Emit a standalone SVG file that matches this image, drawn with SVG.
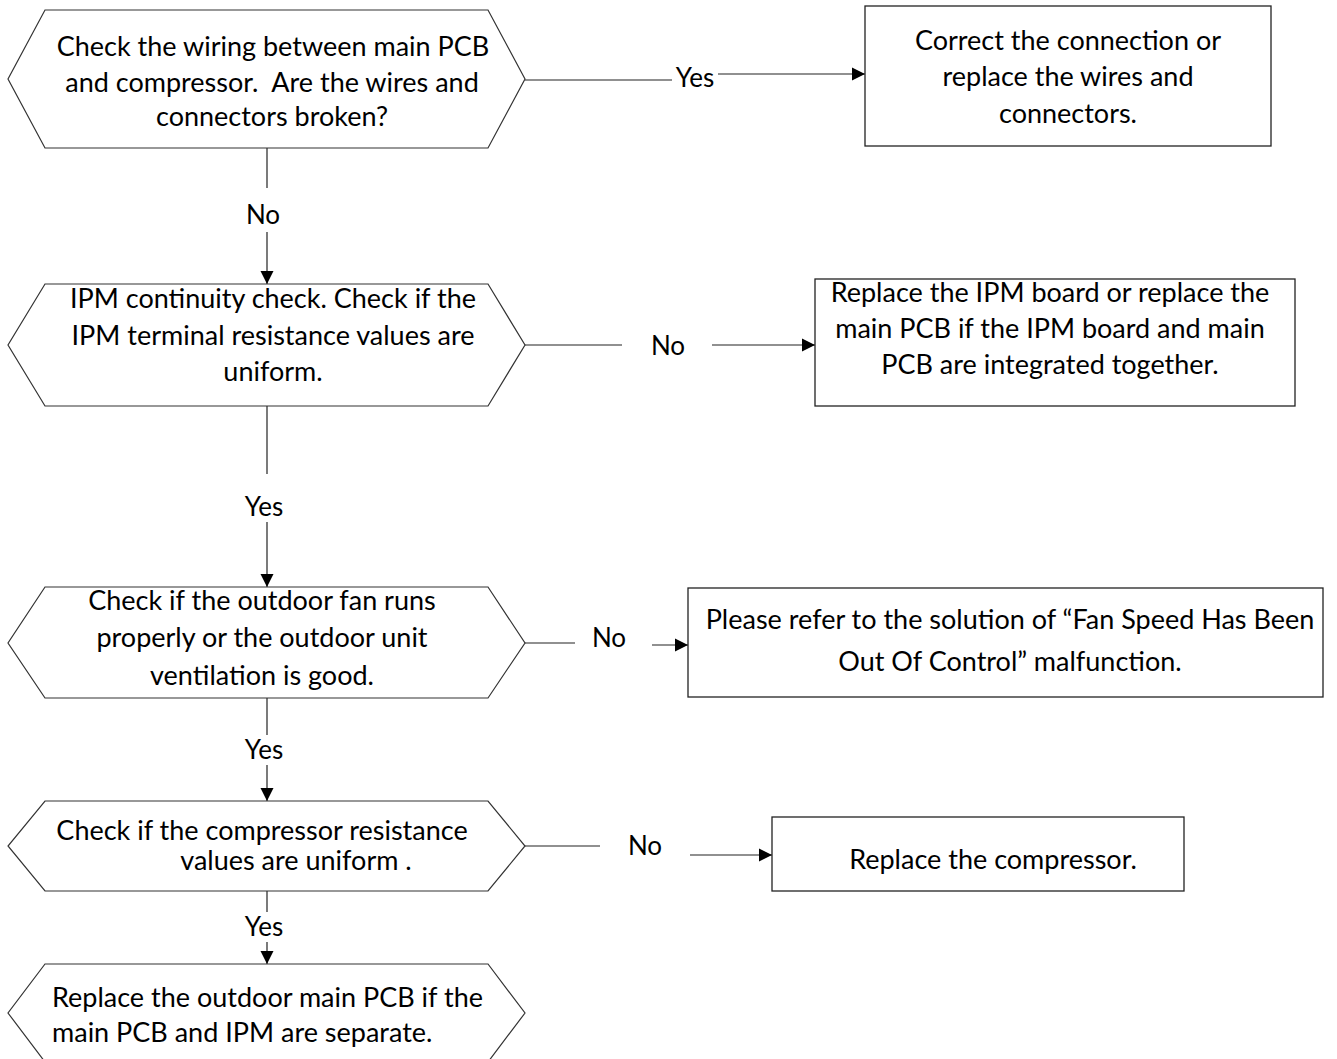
<svg xmlns="http://www.w3.org/2000/svg" width="1337" height="1059" viewBox="0 0 1337 1059">
<defs>
<marker id="arr" markerWidth="14" markerHeight="14" refX="13" refY="7" orient="auto" markerUnits="userSpaceOnUse">
<path d="M0,0.5 L13,7 L0,13.5 Z" fill="#000"/>
</marker>
<style>
.hex{fill:#fff;stroke:#333;stroke-width:1.2}
.box{fill:#fff;stroke:#222;stroke-width:1.3}
.t{font-family:"Lato","Liberation Sans",sans-serif;font-size:27px;fill:#000;text-anchor:middle;white-space:pre}
.l{font-family:"Lato","Liberation Sans",sans-serif;font-size:26px;fill:#000;text-anchor:middle}
.c{fill:none;stroke:#222;stroke-width:1.2}
</style>
</defs>
<rect width="1337" height="1059" fill="#fff"/>
<g id="connectors">
<path class="c" d="M525,80 H672"/>
<path class="c" d="M718,74 H865" marker-end="url(#arr)"/>
<path class="c" d="M267,148 V188"/>
<path class="c" d="M267,232 V284" marker-end="url(#arr)"/>
<path class="c" d="M525,345 H622"/>
<path class="c" d="M712,345 H815" marker-end="url(#arr)"/>
<path class="c" d="M267,406 V474"/>
<path class="c" d="M267,522 V587" marker-end="url(#arr)"/>
<path class="c" d="M525,643 H575"/>
<path class="c" d="M652,645 H688" marker-end="url(#arr)"/>
<path class="c" d="M267,698 V735"/>
<path class="c" d="M267,765 V801" marker-end="url(#arr)"/>
<path class="c" d="M525,846 H600"/>
<path class="c" d="M690,855 H772" marker-end="url(#arr)"/>
<path class="c" d="M267,891 V912"/>
<path class="c" d="M267,942 V964" marker-end="url(#arr)"/>
<text class="l" x="695" y="87">Yes</text>
<text class="l" x="263" y="224">No</text>
<text class="l" x="668" y="355">No</text>
<text class="l" x="264" y="516">Yes</text>
<text class="l" x="609" y="647">No</text>
<text class="l" x="264" y="759">Yes</text>
<text class="l" x="645" y="855">No</text>
<text class="l" x="264" y="936">Yes</text>
</g>
<g id="n1">
<polygon class="hex" points="45,10 488,10 525,79 488,148 45,148 8,79"/>
<text class="t" x="273" y="56">Check the wiring between main PCB</text>
<text class="t" x="272" y="92">and compressor.  Are the wires and</text>
<text class="t" x="272" y="126">connectors broken?</text>
</g>
<g id="n2">
<rect class="box" x="865" y="6" width="406" height="140"/>
<text class="t" x="1068" y="50">Correct the connection or</text>
<text class="t" x="1068" y="86">replace the wires and</text>
<text class="t" x="1068" y="123">connectors.</text>
</g>
<g id="n3">
<polygon class="hex" points="45,284 488,284 525,345 488,406 45,406 8,345"/>
<text class="t" x="273" y="308">IPM continuity check. Check if the</text>
<text class="t" x="273" y="345">IPM terminal resistance values are</text>
<text class="t" x="273" y="381">uniform.</text>
</g>
<g id="n4">
<rect class="box" x="815" y="279" width="480" height="127"/>
<text class="t" x="1050" y="302">Replace the IPM board or replace the</text>
<text class="t" x="1050" y="338">main PCB if the IPM board and main</text>
<text class="t" x="1050" y="374">PCB are integrated together.</text>
</g>
<g id="n5">
<polygon class="hex" points="45,587 488,587 525,643 488,698 45,698 8,643"/>
<text class="t" x="262" y="610">Check if the outdoor fan runs</text>
<text class="t" x="262" y="647">properly or the outdoor unit</text>
<text class="t" x="262" y="685">ventilation is good.</text>
</g>
<g id="n6">
<rect class="box" x="688" y="588" width="635" height="109"/>
<text class="t" x="1010" y="629">Please refer to the solution of “Fan Speed Has Been</text>
<text class="t" x="1010" y="671">Out Of Control” malfunction.</text>
</g>
<g id="n7">
<polygon class="hex" points="45,801 488,801 525,846 488,891 45,891 8,846"/>
<text class="t" x="262" y="840">Check if the compressor resistance</text>
<text class="t" x="296" y="870">values are uniform .</text>
</g>
<g id="n8">
<rect class="box" x="772" y="817" width="412" height="74"/>
<text class="t" x="993" y="869">Replace the compressor.</text>
</g>
<g id="n9">
<polygon class="hex" points="45,964 488,964 525,1013 488,1062 45,1062 8,1013"/>
<text class="t" x="52" y="1007" style="text-anchor:start">Replace the outdoor main PCB if the</text>
<text class="t" x="52" y="1042" style="text-anchor:start">main PCB and IPM are separate.</text>
</g>
</svg>
